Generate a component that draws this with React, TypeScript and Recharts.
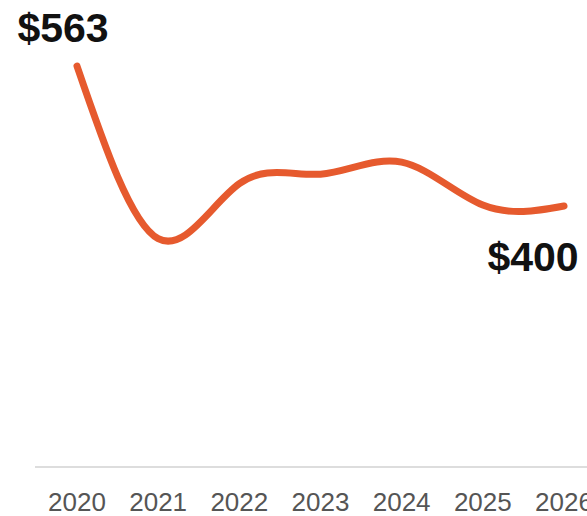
import { LineChart, Line, XAxis, YAxis, LabelList } from 'recharts';

const years = ['2020', '2021', '2022', '2023', '2024', '2025', '2026'];
const prices = [563, 362, 426, 437, 451, 401, 400];

const chartData = years.map((year, i) => ({ year, price: prices[i] }));

const FONT = '"Liberation Sans", Arial, sans-serif';

// only the first and last point get a price label
const PriceLabel = (props: any) => {
  const { x, y, value, index } = props;
  if (index === 0) {
    return (
      <text x={x - 14} y={y - 24} textAnchor='middle' fontFamily={FONT} fontSize={41} fontWeight='bold' fill='#111'>
        ${value}
      </text>
    );
  }
  if (index === years.length - 1) {
    return (
      <text x={x - 31} y={y + 65} textAnchor='middle' fontFamily={FONT} fontSize={41} fontWeight='bold' fill='#111'>
        ${value}
      </text>
    );
  }
  return null;
};

export default function App() {
  return (
    <div style={{ position: 'absolute', left: 0, top: 0, width: 587, height: 516, overflow: 'hidden', background: '#fff' }}>
      <LineChart width={640} height={516} data={chartData} margin={{ top: 66, right: 0, bottom: 9, left: 35 }}>
        <XAxis
          dataKey='year'
          height={40}
          padding={{ left: 42, right: 76 }}
          axisLine={{ stroke: '#dddddd', strokeWidth: 2 }}
          tickLine={false}
          tickSize={0}
          tickMargin={26}
          interval={0}
          tick={{ fill: '#555555', fontSize: 26, fontFamily: FONT }}
        />
        <YAxis hide domain={[96, 563]} />
        <Line
          type='natural'
          dataKey='price'
          stroke='#e65a2e'
          strokeWidth={7}
          strokeLinecap='round'
          dot={false}
          activeDot={false}
          isAnimationActive={false}
        >
          <LabelList dataKey='price' content={PriceLabel} />
        </Line>
      </LineChart>
    </div>
  );
}
